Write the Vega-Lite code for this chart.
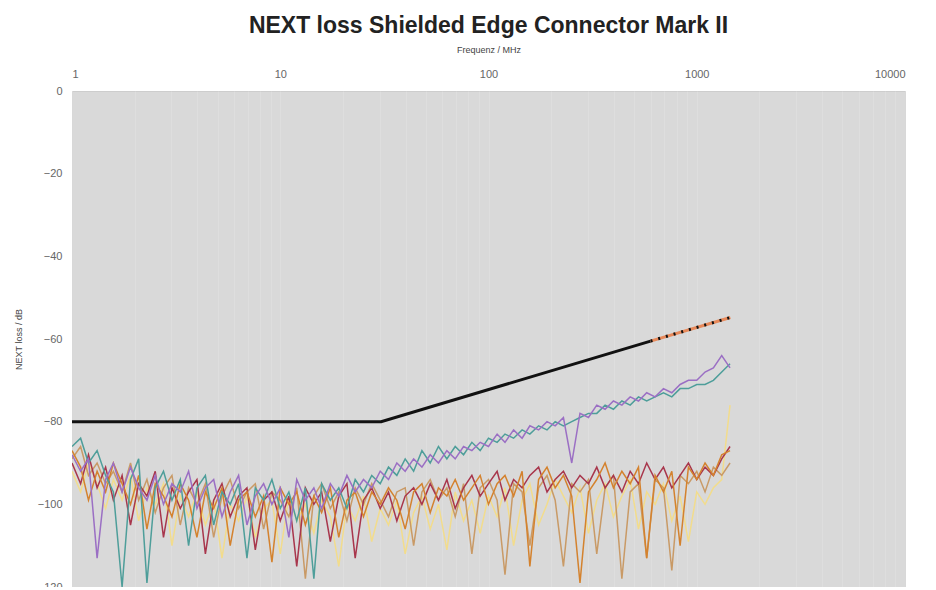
{
  "$schema": "https://vega.github.io/schema/vega-lite/v6.json",
  "width": 833,
  "height": 496,
  "autosize": {"type": "none"},
  "padding": {"left": 72, "top": 91, "right": 31, "bottom": 0},
  "background": "white",
  "title": {"text": "NEXT loss Shielded Edge Connector Mark II", "fontSize": 23, "font": "Liberation Sans", "fontWeight": "bold", "color": "#222222", "anchor": "middle", "offset": 7},
  "config": {"view": {"fill": "#d9d9d9", "stroke": "#cdcdcd"}},
  "datasets": {
    "meas": [
      {"f":1,"P":-88,"T":-86,"R":-90,"O":-87,"Y":-92,"B":-89},
      {"f":1.1,"P":-92,"T":-84,"R":-95,"O":-91,"Y":-97,"B":-86},
      {"f":1.2,"P":-89,"T":-90,"R":-88,"O":-99,"Y":-90,"B":-93},
      {"f":1.32,"P":-113,"T":-87,"R":-96,"O":-92,"Y":-95,"B":-90},
      {"f":1.45,"P":-94,"T":-93,"R":-91,"O":-97,"Y":-101,"B":-95},
      {"f":1.58,"P":-90,"T":-97,"R":-99,"O":-90,"Y":-94,"B":-92},
      {"f":1.74,"P":-97,"T":-120,"R":-93,"O":-95,"Y":-99,"B":-97},
      {"f":1.91,"P":-91,"T":-94,"R":-105,"O":-100,"Y":-93,"B":-90},
      {"f":2.09,"P":-96,"T":-89,"R":-95,"O":-93,"Y":-104,"B":-99},
      {"f":2.29,"P":-99,"T":-119,"R":-98,"O":-106,"Y":-96,"B":-94},
      {"f":2.51,"P":-93,"T":-96,"R":-92,"O":-95,"Y":-100,"B":-102},
      {"f":2.75,"P":-100,"T":-92,"R":-108,"O":-98,"Y":-95,"B":-96},
      {"f":3.02,"P":-95,"T":-99,"R":-96,"O":-103,"Y":-110,"B":-93},
      {"f":3.31,"P":-97,"T":-94,"R":-101,"O":-95,"Y":-98,"B":-105},
      {"f":3.63,"P":-92,"T":-110,"R":-97,"O":-99,"Y":-103,"B":-96},
      {"f":3.98,"P":-101,"T":-96,"R":-94,"O":-108,"Y":-97,"B":-100},
      {"f":4.37,"P":-96,"T":-93,"R":-112,"O":-97,"Y":-105,"B":-95},
      {"f":4.79,"P":-94,"T":-105,"R":-99,"O":-101,"Y":-99,"B":-108},
      {"f":5.25,"P":-103,"T":-97,"R":-95,"O":-96,"Y":-113,"B":-98},
      {"f":5.75,"P":-97,"T":-100,"R":-103,"O":-110,"Y":-100,"B":-94},
      {"f":6.31,"P":-93,"T":-95,"R":-98,"O":-99,"Y":-104,"B":-101},
      {"f":6.92,"P":-105,"T":-113,"R":-96,"O":-97,"Y":-98,"B":-97},
      {"f":7.59,"P":-98,"T":-96,"R":-111,"O":-103,"Y":-108,"B":-95},
      {"f":8.32,"P":-95,"T":-99,"R":-99,"O":-98,"Y":-101,"B":-106},
      {"f":9.12,"P":-100,"T":-94,"R":-97,"O":-114,"Y":-99,"B":-97},
      {"f":10,"P":-96,"T":-101,"R":-104,"O":-96,"Y":-112,"B":-99},
      {"f":11,"P":-108,"T":-97,"R":-98,"O":-100,"Y":-98,"B":-103},
      {"f":12,"P":-94,"T":-104,"R":-115,"O":-97,"Y":-104,"B":-96},
      {"f":13.2,"P":-99,"T":-96,"R":-96,"O":-105,"Y":-100,"B":-118},
      {"f":14.5,"P":-96,"T":-118,"R":-100,"O":-98,"Y":-107,"B":-98},
      {"f":15.8,"P":-101,"T":-95,"R":-97,"O":-102,"Y":-99,"B":-95},
      {"f":17.4,"P":-95,"T":-99,"R":-109,"O":-96,"Y":-103,"B":-101},
      {"f":19.1,"P":-98,"T":-96,"R":-98,"O":-108,"Y":-115,"B":-97},
      {"f":20.9,"P":-93,"T":-101,"R":-95,"O":-99,"Y":-100,"B":-104},
      {"f":22.9,"P":-97,"T":-94,"R":-113,"O":-97,"Y":-104,"B":-96},
      {"f":25.1,"P":-94,"T":-97,"R":-99,"O":-103,"Y":-98,"B":-100},
      {"f":27.5,"P":-96,"T":-93,"R":-96,"O":-97,"Y":-109,"B":-95},
      {"f":30.2,"P":-92,"T":-95,"R":-101,"O":-100,"Y":-101,"B":-99},
      {"f":33.1,"P":-94,"T":-91,"R":-97,"O":-96,"Y":-105,"B":-103},
      {"f":36.3,"P":-90,"T":-93,"R":-104,"O":-99,"Y":-99,"B":-97},
      {"f":39.8,"P":-92,"T":-89,"R":-98,"O":-106,"Y":-112,"B":-96},
      {"f":43.7,"P":-89,"T":-92,"R":-96,"O":-97,"Y":-102,"B":-110},
      {"f":47.9,"P":-91,"T":-87,"R":-100,"O":-95,"Y":-98,"B":-97},
      {"f":52.5,"P":-88,"T":-90,"R":-95,"O":-102,"Y":-106,"B":-94},
      {"f":57.5,"P":-90,"T":-86,"R":-99,"O":-96,"Y":-100,"B":-99},
      {"f":63.1,"P":-87,"T":-89,"R":-94,"O":-98,"Y":-111,"B":-96},
      {"f":69.2,"P":-89,"T":-86,"R":-101,"O":-94,"Y":-97,"B":-103},
      {"f":75.9,"P":-86,"T":-88,"R":-96,"O":-99,"Y":-104,"B":-95},
      {"f":83.2,"P":-87,"T":-85,"R":-93,"O":-96,"Y":-99,"B":-112},
      {"f":91.2,"P":-85,"T":-87,"R":-98,"O":-93,"Y":-107,"B":-96},
      {"f":100,"P":-86,"T":-84,"R":-95,"O":-100,"Y":-98,"B":-94},
      {"f":110,"P":-83,"T":-85,"R":-92,"O":-95,"Y":-103,"B":-99},
      {"f":120,"P":-85,"T":-83,"R":-99,"O":-93,"Y":-96,"B":-117},
      {"f":132,"P":-82,"T":-84,"R":-94,"O":-98,"Y":-110,"B":-95},
      {"f":145,"P":-84,"T":-82,"R":-96,"O":-92,"Y":-99,"B":-97},
      {"f":158,"P":-81,"T":-83,"R":-93,"O":-115,"Y":-95,"B":-110},
      {"f":174,"P":-82,"T":-81,"R":-91,"O":-94,"Y":-105,"B":-96},
      {"f":191,"P":-80,"T":-82,"R":-97,"O":-91,"Y":-100,"B":-93},
      {"f":209,"P":-81,"T":-80,"R":-94,"O":-96,"Y":-94,"B":-99},
      {"f":229,"P":-79,"T":-81,"R":-92,"O":-93,"Y":-98,"B":-115},
      {"f":251,"P":-90,"T":-80,"R":-96,"O":-98,"Y":-102,"B":-95},
      {"f":275,"P":-78,"T":-79,"R":-93,"O":-119,"Y":-96,"B":-97},
      {"f":302,"P":-79,"T":-78,"R":-95,"O":-97,"Y":-107,"B":-94},
      {"f":331,"P":-76,"T":-78,"R":-91,"O":-94,"Y":-99,"B":-112},
      {"f":363,"P":-77,"T":-76,"R":-96,"O":-90,"Y":-95,"B":-96},
      {"f":398,"P":-75,"T":-77,"R":-93,"O":-96,"Y":-103,"B":-93},
      {"f":437,"P":-76,"T":-75,"R":-97,"O":-92,"Y":-98,"B":-118},
      {"f":479,"P":-74,"T":-76,"R":-92,"O":-95,"Y":-94,"B":-97},
      {"f":525,"P":-75,"T":-74,"R":-95,"O":-91,"Y":-106,"B":-95},
      {"f":575,"P":-73,"T":-75,"R":-90,"O":-113,"Y":-97,"B":-113},
      {"f":631,"P":-74,"T":-74,"R":-94,"O":-93,"Y":-100,"B":-94},
      {"f":692,"P":-72,"T":-73,"R":-91,"O":-97,"Y":-95,"B":-96},
      {"f":759,"P":-73,"T":-74,"R":-96,"O":-92,"Y":-104,"B":-116},
      {"f":832,"P":-71,"T":-72,"R":-93,"O":-110,"Y":-98,"B":-93},
      {"f":912,"P":-70,"T":-72,"R":-90,"O":-91,"Y":-109,"B":-95},
      {"f":1000,"P":-70,"T":-71,"R":-94,"O":-94,"Y":-97,"B":-92},
      {"f":1096,"P":-68,"T":-71,"R":-91,"O":-90,"Y":-100,"B":-97},
      {"f":1202,"P":-67,"T":-70,"R":-93,"O":-93,"Y":-96,"B":-91},
      {"f":1318,"P":-64,"T":-68,"R":-89,"O":-88,"Y":-94,"B":-93},
      {"f":1445,"P":-67,"T":-66,"R":-86,"O":-87,"Y":-76,"B":-90}
    ],
    "lim": [
      {"f": 1, "v": -80},
      {"f": 30.5, "v": -80},
      {"f": 600, "v": -60.5}
    ],
    "lim2": [
      {"f": 600, "v": -60.5},
      {"f": 1450, "v": -54.8}
    ]
  },
  "encoding": {
    "x": {
      "field": "f", "type": "quantitative",
      "scale": {"type": "log", "domain": [1, 10000], "nice": false},
      "axis": {
        "orient": "top", "title": "Frequenz / MHz",
        "values": [1,2,3,4,5,6,7,8,9,10,20,30,40,50,60,70,80,90,100,200,300,400,500,600,700,800,900,1000,2000,3000,4000,5000,6000,7000,8000,9000,10000],
        "format": "d",
        "labelExpr": "(datum.value == 1 || datum.value == 10 || datum.value == 100 || datum.value == 1000 || datum.value == 10000) ? datum.label : ''",
        "labelOverlap": false,
        "labelFont": "Liberation Sans", "labelFontSize": 11, "labelColor": "#666666", "labelPadding": 12,
        "ticks": false, "domain": false,
        "grid": true, "gridColor": "#e4e4e4", "gridWidth": 1, "gridOpacity": 0.5,
        "titleFont": "Liberation Sans", "titleFontSize": 9, "titleFontWeight": "normal", "titleColor": "#444444", "titlePadding": 14
      }
    },
    "y": {
      "field": "v", "type": "quantitative",
      "scale": {"domain": [-120, 0], "nice": false},
      "axis": {
        "title": "NEXT loss / dB",
        "values": [0, -20, -40, -60, -80, -100, -120],
        "grid": false, "ticks": false, "domain": false,
        "labelFont": "Liberation Sans", "labelFontSize": 11, "labelColor": "#666666", "labelPadding": 10,
        "titleFont": "Liberation Sans", "titleFontSize": 9, "titleFontWeight": "normal", "titleColor": "#444444", "titlePadding": 14
      }
    }
  },
  "layer": [
    {
      "data": {"name": "meas"},
      "transform": [{"fold": ["Y", "B", "R", "O", "T", "P"], "as": ["s", "v"]}],
      "mark": {"type": "line", "strokeWidth": 1.5, "clip": true},
      "encoding": {
        "color": {
          "field": "s", "type": "nominal", "legend": null,
          "scale": {"domain": ["Y", "B", "R", "O", "T", "P"], "range": ["#f2dc8c", "#c99a66", "#a8364c", "#d4822e", "#4e9e9a", "#9b6fc4"]}
        }
      }
    },
    {
      "data": {"name": "lim"},
      "mark": {"type": "line", "color": "#111111", "strokeWidth": 3},
      "encoding": {}
    },
    {
      "data": {"name": "lim2"},
      "mark": {"type": "line", "color": "#e8895a", "strokeWidth": 3},
      "encoding": {}
    },
    {
      "data": {"name": "lim2"},
      "mark": {"type": "line", "color": "#111111", "strokeWidth": 3, "strokeDash": [2, 6]},
      "encoding": {}
    }
  ]
}
